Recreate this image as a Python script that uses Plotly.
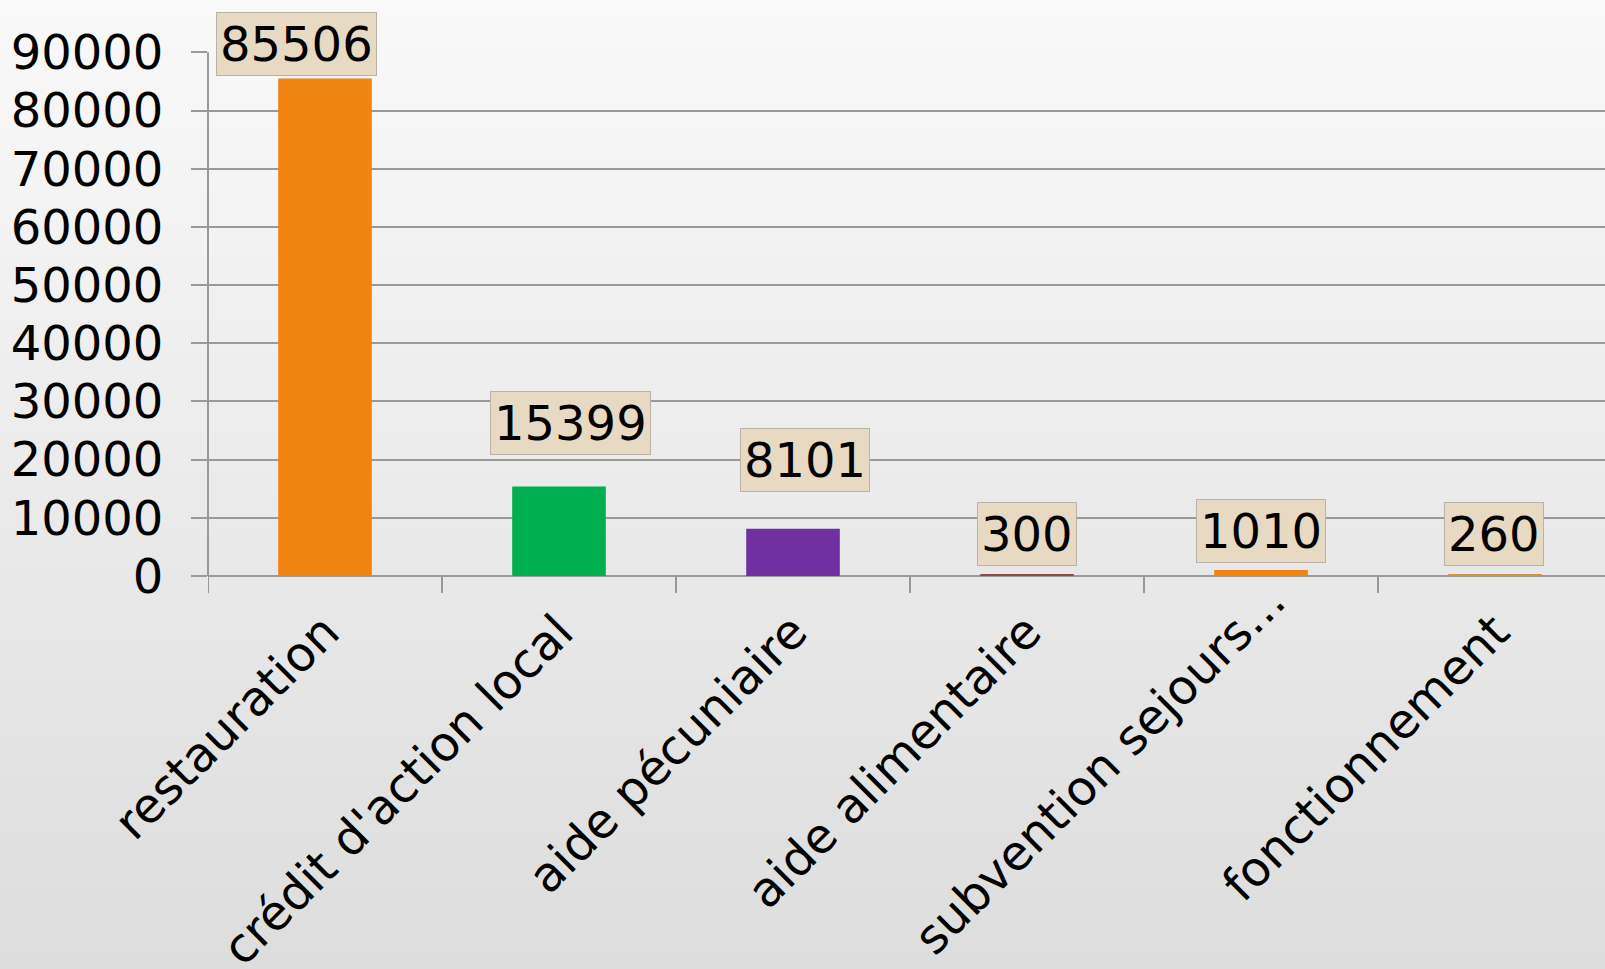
import plotly.graph_objects as go

categories = ["restauration", "crédit d'action local", "aide pécuniaire",
              "aide alimentaire", "subvention sejours...", "fonctionnement"]
values = [85506, 15399, 8101, 300, 1010, 260]
y_ticks = [0, 10000, 20000, 30000, 40000, 50000, 60000, 70000, 80000, 90000]
y_tick_labels = [str(v) for v in y_ticks]

bar_colors = ["#F0840F", "#00B050", "#7030A0", "#8E4B4B", "#F0840F", "#D99040"]
label_xshift = [-29, 11, 12, 0, 0, -1]
label_yshift = [2, 31, 37, 8, 7, 8]
SHIFTED = 4  # category whose axis label sits higher in the reference

W, H = 1605, 969
L, T, B = 208, 52, 393
FONT = "Verdana, DejaVu Sans, sans-serif"
FS = 48

x_idx = list(range(len(categories)))
fig = go.Figure(go.Bar(
    x=x_idx, y=values, width=0.4,
    marker=dict(color=bar_colors, line=dict(width=0)),
    hoverinfo="skip",
))
# invisible helper trace so the second (overlaid) x axis is drawn
fig.add_trace(go.Scatter(x=[x_idx[SHIFTED]], y=[values[SHIFTED]], xaxis="x2",
                         mode="markers", marker=dict(opacity=0),
                         hoverinfo="skip", showlegend=False))

# vertical gradient background (white -> light grey) built from bands
plot_h = H - T - B
plot_w = W - L
y_top = (H - B) / plot_h
y_bot = -B / plot_h
x_left = -L / plot_w
n = 60
c0 = (249, 249, 249)
c1 = (221, 221, 221)
shapes = []
for i in range(n):
    f = (i + 0.5) / n
    c = tuple(round(c0[k] + (c1[k] - c0[k]) * f) for k in range(3))
    ya = y_top - (y_top - y_bot) * i / n
    yb = y_top - (y_top - y_bot) * (i + 1) / n
    shapes.append(dict(type="rect", xref="paper", yref="paper",
                       x0=x_left - 0.01, x1=1.01, y0=yb - 0.01, y1=ya + 0.002,
                       fillcolor="rgb(%d,%d,%d)" % c, line=dict(width=0),
                       layer="below"))

annotations = []
for i, v in enumerate(values):
    annotations.append(dict(
        x=i, y=v, xref="x", yref="y", text=str(v), showarrow=False,
        yanchor="bottom", xanchor="center",
        xshift=label_xshift[i], yshift=label_yshift[i],
        font=dict(family=FONT, size=FS, color="#000000"),
        bgcolor="#E8D9C3", bordercolor="#B9B2A9", borderwidth=1, borderpad=3,
    ))

x_range = [-0.5, len(categories) - 0.53]
main_ticktext = [c if i != SHIFTED else "" for i, c in enumerate(categories)]

fig.update_layout(
    width=W, height=H, autosize=False,
    margin=dict(l=L, r=0, t=T, b=B, pad=0, autoexpand=False),
    paper_bgcolor="rgba(0,0,0,0)", plot_bgcolor="rgba(0,0,0,0)",
    shapes=shapes, annotations=annotations,
    showlegend=False, bargap=0.6,
    font=dict(family=FONT, size=FS, color="#000000"),
    xaxis=dict(
        range=x_range,
        tickmode="array", tickvals=x_idx, ticktext=main_ticktext,
        tickangle=-45, showgrid=False, automargin=False,
        showline=False, ticks="", zeroline=False,
        ticklabelstandoff=17,
        tickfont=dict(family=FONT, size=FS, color="#000000"),
    ),
    xaxis2=dict(
        overlaying="x", anchor="y", side="bottom",
        range=x_range,
        tickmode="array", tickvals=[x_idx[SHIFTED]],
        ticktext=[categories[SHIFTED]],
        tickangle=-45, showgrid=False, automargin=False,
        showline=False, ticks="", zeroline=False,
        ticklabelstandoff=-14, ticklabelshift=10,
        tickfont=dict(family=FONT, size=FS, color="#000000"),
    ),
    yaxis=dict(
        range=[0, 90060], tickmode="array", tickvals=y_ticks,
        ticktext=y_tick_labels, automargin=False,
        showgrid=True, gridcolor="#999999", gridwidth=2,
        zeroline=True, zerolinecolor="#999999", zerolinewidth=2,
        showline=False,
        ticks="outside", ticklen=16, tickcolor="#999999", tickwidth=2,
        ticklabelstandoff=18,
        tickfont=dict(family=FONT, size=FS, color="#000000"),
    ),
)

# y axis line from 0 to the top tick
fig.add_shape(type="line", xref="paper", yref="y", x0=0, x1=0,
              y0=0, y1=y_ticks[-1], line=dict(color="#999999", width=2))

# category boundary ticks on the x axis
for b in [i - 0.5 for i in range(len(categories) + 1)]:
    fig.add_shape(type="line", xref="x", yref="paper", x0=b, x1=b,
                  y0=0, y1=-17 / plot_h, line=dict(color="#999999", width=2))

fig.write_html("out.html", config={"displayModeBar": False},
               post_script="document.body.style.margin='0';"
                           "document.body.style.overflow='hidden';")
